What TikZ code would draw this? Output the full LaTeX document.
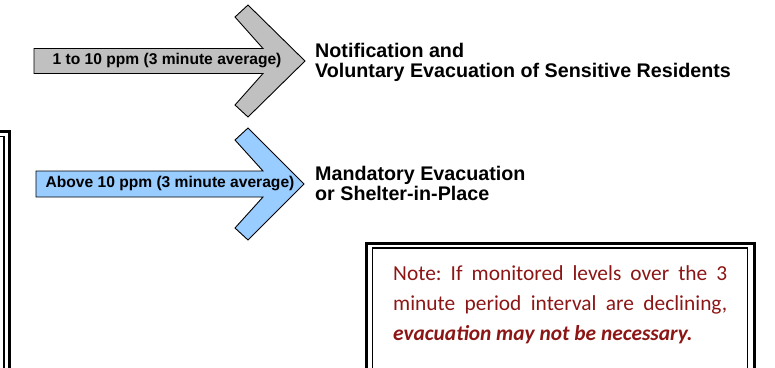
\documentclass[tikz,border=0pt]{standalone}
\usepackage{fontspec}
\setmainfont{Liberation Sans}
\newfontfamily\notefont{Carlito}
\definecolor{arrgray}{RGB}{192,192,192}
\definecolor{arrblue}{RGB}{153,204,255}
\definecolor{notered}{RGB}{140,22,22}
\frenchspacing
\begin{document}
\begin{tikzpicture}[x=1pt,y=-1pt,
  bigarrow/.style={draw=black,line width=0.9pt,line join=miter},
  arrlabel/.style={font=\fontsize{15.6}{18}\selectfont\bfseries,inner sep=0pt},
  outcome/.style={font=\fontsize{19.7}{20}\selectfont\bfseries,inner sep=0pt,align=left,anchor=base west},
  outerframe/.style={draw=black,line width=3pt},
  innerframe/.style={draw=black,line width=1.5pt}]
\useasboundingbox (0,0) rectangle (775,367);
% arrow 1 (gray)
\path[bigarrow,fill=arrgray] (34,48.5) -- (263,48.5) -- (235,17) -- (248,5) -- (305,61)
  -- (248,117) -- (235,105) -- (263,73.5) -- (34,73.5) -- cycle;
\node[arrlabel] (lab1) at (167,60.5) {1 to 10 ppm (3 minute average)};
% arrow 2 (blue)
\path[bigarrow,fill=arrblue] (36,171) -- (263,171) -- (235,140) -- (248,128) -- (304,184)
  -- (248,240) -- (235,228) -- (263,197) -- (36,197) -- cycle;
\node[arrlabel] (lab2) at (170,183.5) {Above 10 ppm (3 minute average)};
% outcomes
\node[outcome] (out1) at (315,77) {Notification and\\Voluntary Evacuation of Sensitive Residents};
\node[outcome] (out2) at (315,200) {Mandatory Evacuation\\or Shelter-in-Place};
% left frame (cut off)
\draw[outerframe] (-20,131.5) -- (9,131.5) -- (9,380);
\draw[innerframe] (-20,136.5) -- (4,136.5) -- (4,380);
% note frame
\draw[outerframe] (366.5,380) -- (366.5,243.5) -- (754.3,243.5) -- (754.3,380);
\draw[innerframe] (372.5,380) -- (372.5,247.8) -- (747.5,247.8) -- (747.5,380);
\node[anchor=base west,inner sep=0pt,text=notered] (note) at (393,280)
  {\parbox[t]{334pt}{\frenchspacing\notefont\fontsize{21.4}{30}\selectfont
   Note: If monitored levels over the 3\linebreak
   minute period interval are declining,\linebreak
   \textbf{\textit{evacuation may not be necessary.}}}};
\end{tikzpicture}
\end{document}
